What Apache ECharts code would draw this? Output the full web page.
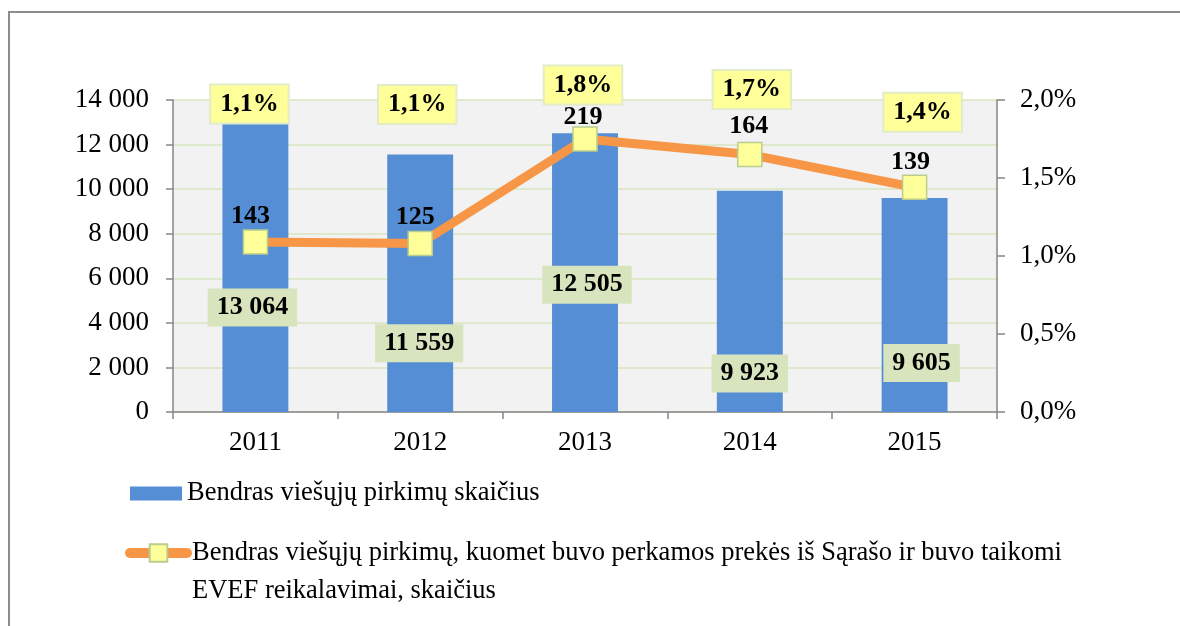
<!DOCTYPE html>
<html>
<head>
<meta charset="utf-8">
<script src="https://cdn.jsdelivr.net/npm/echarts@6/dist/echarts.min.js"></script>
<style>
  html, body { margin: 0; padding: 0; background: #fff; }
  #chart { width: 1180px; height: 626px; }
</style>
</head>
<body>
<div id="chart"></div>
<script>
var years = ['2011', '2012', '2013', '2014', '2015'];
var totalCounts = [13064, 11559, 12505, 9923, 9605];
var evefCounts = [143, 125, 219, 164, 139];
var evefShare = [1.09, 1.08, 1.75, 1.65, 1.44];
var shareLabels = ['1,1%', '1,1%', '1,8%', '1,7%', '1,4%'];

var barName = 'Bendras viešųjų pirkimų skaičius';
var lineName = 'Bendras viešųjų pirkimų, kuomet buvo perkamos prekės iš Sąrašo ir buvo taikomi EVEF reikalavimai, skaičius';

// label placement (as moved by hand in the original)
var barLabelOffsets = [[-3, 41], [-1, 60], [2, 12], [0, 72], [7, 58]];
var countLabelOffsets = [[-5, -26], [-5, -26], [-2, -22], [-1, -28], [-4, -25]];
var shareLabelOffsets = [[-6, -138], [-3, -139], [-2, -54], [2, -65], [8, -75]];

var font = "'Liberation Serif', 'Times New Roman', serif";

function thousands(v) {
	return String(v).replace(/\B(?=(\d{3})+(?!\d))/g, ' ');
}

var chart = echarts.init(document.getElementById('chart'));

var barData = totalCounts.map(function(v, i) {
	return { value: v, label: { offset: barLabelOffsets[i] } };
});
var lineData = evefShare.map(function(v, i) {
	return { value: v, label: { offset: countLabelOffsets[i] } };
});
var shareData = evefShare.map(function(v, i) {
	return { value: [years[i], v], label: { offset: shareLabelOffsets[i] } };
});

chart.setOption({
	animation: false,
	textStyle: { fontFamily: font },
	graphic: [{
		type: 'rect',
		shape: { x: 9, y: 12, width: 1300, height: 800 },
		style: { fill: 'none', stroke: '#8c8c8c', lineWidth: 2 },
		silent: true
	}],
	grid: {
		left: 173, top: 100, right: 183, bottom: 214,
		show: true, backgroundColor: '#F2F2F2', borderWidth: 0
	},
	legend: [{
		data: [barName],
		left: 130, top: 478, padding: 0,
		itemWidth: 52, itemHeight: 14, icon: 'rect',
		textStyle: { fontFamily: font, fontSize: 26.5, color: '#000', lineHeight: 31 }
	}, {
		data: [lineName],
		left: 125, top: 496, padding: 0,
		itemWidth: 57, itemHeight: 22,
		lineStyle: { width: 10, cap: 'round' },
		formatter: function() {
			return ' \nBendras viešųjų pirkimų, kuomet buvo perkamos prekės iš Sąrašo ir buvo taikomi\nEVEF reikalavimai, skaičius';
		},
		textStyle: { fontFamily: font, fontSize: 26.5, color: '#000', lineHeight: 38 }
	}],
	xAxis: {
		type: 'category',
		data: years,
		axisLine: { lineStyle: { color: '#868686', width: 1.5 } },
		axisTick: { show: true, length: 7, lineStyle: { color: '#868686', width: 1.5 } },
		axisLabel: { fontFamily: font, fontSize: 27, color: '#000', margin: 17 }
	},
	yAxis: [{
		type: 'value',
		min: 0, max: 14000, interval: 2000,
		axisLine: { show: true, lineStyle: { color: '#868686', width: 1.5 } },
		axisTick: { show: true, length: 7, lineStyle: { color: '#868686', width: 1.5 } },
		splitLine: { lineStyle: { color: '#D7E4BD', width: 1.5 } },
		axisLabel: {
			fontFamily: font, fontSize: 27, color: '#000', margin: 24,
			formatter: function(v) { return thousands(v); }
		}
	}, {
		type: 'value',
		min: 0, max: 2, interval: 0.5,
		position: 'right',
		axisLine: { show: true, lineStyle: { color: '#868686', width: 1.5 } },
		axisTick: { show: true, length: 8, lineStyle: { color: '#868686', width: 1.5 } },
		splitLine: { show: false },
		axisLabel: {
			fontFamily: font, fontSize: 27, color: '#000', margin: 23,
			formatter: function(v) { return v.toFixed(1).replace('.', ',') + '%'; }
		}
	}],
	series: [{
		name: barName,
		type: 'bar',
		data: barData,
		barCategoryGap: '60%',
		itemStyle: { color: '#558ED5' },
		label: {
			show: true,
			position: 'inside',
			fontFamily: font, fontSize: 26, fontWeight: 'bold', color: '#000',
			backgroundColor: '#D7E4BD',
			padding: [5, 9], lineHeight: 28,
			formatter: function(p) { return thousands(p.value); }
		}
	}, {
		name: lineName,
		type: 'line',
		yAxisIndex: 1,
		data: lineData,
		z: 5,
		lineStyle: { color: '#F79646', width: 9, cap: 'round' },
		itemStyle: { color: '#FFFF99', borderColor: '#B9CD8E', borderWidth: 1.5 },
		symbol: 'rect',
		symbolSize: 24,
		label: {
			show: true,
			position: 'inside',
			fontFamily: font, fontSize: 26, fontWeight: 'bold', color: '#000',
			formatter: function(p) { return evefCounts[p.dataIndex]; }
		}
	}, {
		name: 'share',
		type: 'scatter',
		yAxisIndex: 1,
		data: shareData,
		z: 6,
		symbolSize: 1,
		silent: true,
		itemStyle: { color: 'rgba(0,0,0,0)', opacity: 1 },
		label: {
			show: true,
			position: 'inside',
			fontFamily: font, fontSize: 26, fontWeight: 'bold', color: '#000',
			backgroundColor: '#FFFF99',
			borderColor: '#E2ECC6', borderWidth: 2,
			padding: [5, 9], lineHeight: 27,
			formatter: function(p) { return shareLabels[p.dataIndex]; }
		}
	}]
});
</script>
</body>
</html>
